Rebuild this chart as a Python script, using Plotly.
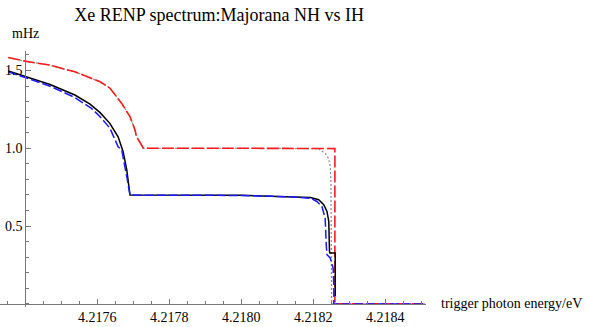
import plotly.graph_objects as go

# NH curves (upper plateau) and IH curves (lower plateau)
red_x = [4.217353, 4.217399, 4.217469, 4.217538, 4.217608, 4.217635, 4.217668,
         4.217691, 4.217705, 4.217709, 4.217723, 4.217728, 4.21800, 4.21825,
         4.21826, 4.21826, 4.21851]
red_y = [1.583, 1.560, 1.534, 1.491, 1.427, 1.387, 1.288,
         1.203, 1.117, 1.074, 1.021, 1.000, 1.0, 0.998,
         0.998, 0.0, 0.0]

gray_x = [4.217353, 4.217399, 4.217469, 4.217538, 4.217608, 4.217635, 4.217668,
          4.217691, 4.217705, 4.217709, 4.217723, 4.217728, 4.21800, 4.218216,
          4.218219, 4.218233, 4.218242, 4.218247, 4.218249, 4.21825, 4.218251,
          4.21851]
gray_y = [1.583, 1.560, 1.534, 1.491, 1.427, 1.387, 1.288,
          1.203, 1.117, 1.074, 1.021, 1.000, 1.0, 0.998,
          0.989, 0.968, 0.936, 0.882, 0.797, 0.6, 0.0,
          0.0]

black_x = [4.217353, 4.217399, 4.217469, 4.217538, 4.217580, 4.217608, 4.217635,
           4.217658, 4.217672, 4.217682, 4.217688, 4.217691, 4.21800, 4.218136,
           4.218192, 4.218215, 4.218229, 4.218238, 4.218243, 4.218245, 4.218246,
           4.218261, 4.218261]
black_y = [1.497, 1.463, 1.410, 1.342, 1.284, 1.229, 1.160,
           1.074, 0.978, 0.861, 0.754, 0.699, 0.698, 0.690,
           0.683, 0.669, 0.637, 0.594, 0.530, 0.337, 0.327,
           0.327, 0.05]

blue_x = [4.217353, 4.217399, 4.217469, 4.217538, 4.217584, 4.217608, 4.217635,
          4.217658, 4.217668, 4.217682, 4.217689, 4.217691, 4.21800, 4.218136,
          4.218192, 4.218210, 4.218224, 4.218233, 4.218236, 4.218238, 4.218247,
          4.218255, 4.218257, 4.218257, 4.21851]
blue_y = [1.491, 1.454, 1.399, 1.326, 1.256, 1.203, 1.130,
          1.010, 0.989, 0.818, 0.712, 0.699, 0.697, 0.688,
          0.679, 0.658, 0.626, 0.551, 0.38, 0.316, 0.295,
          0.231, 0.124, 0.0, 0.0]

x_ticks = [4.2176, 4.2178, 4.2180, 4.2182, 4.2184]
y_ticks = [0.5, 1.0, 1.5]

serif = "Liberation Serif, Times New Roman, serif"
axis_col = "#777777"

fig = go.Figure()
fig.add_trace(go.Scatter(x=gray_x, y=gray_y, mode="lines",
                         line=dict(color="#888888", width=1.2, dash="2px,2px")))
fig.add_trace(go.Scatter(x=red_x, y=red_y, mode="lines",
                         line=dict(color="#FF1A1A", width=1.6, dash="12px,3px")))
fig.add_trace(go.Scatter(x=black_x, y=black_y, mode="lines",
                         line=dict(color="black", width=1.5)))
fig.add_trace(go.Scatter(x=blue_x, y=blue_y, mode="lines",
                         line=dict(color="#1A1AFF", width=1.5, dash="9px,3px")))

x_lo, x_hi = 4.21733, 4.218513
y_lo, y_hi = -0.02, 1.625
fig.update_layout(
    template="none",
    width=589,
    height=327,
    margin=dict(l=0, r=163, t=51, b=20, autoexpand=False),
    plot_bgcolor="white",
    paper_bgcolor="white",
    showlegend=False,
    font=dict(family=serif, size=14, color="black"),
    title=dict(text="Xe RENP spectrum:Majorana NH vs IH", x=0.372, xanchor="center",
               y=0.955, yanchor="middle", font=dict(family=serif, size=18, color="black")),
    xaxis=dict(
        range=[x_lo, x_hi],
        automargin=False,
        anchor="free",
        position=(0 - y_lo) / (y_hi - y_lo),
        showgrid=False,
        zeroline=False,
        showline=True,
        linecolor=axis_col,
        linewidth=1,
        tickmode="array",
        tickvals=x_ticks,
        ticktext=[f"{v:.4f}" for v in x_ticks],
        ticks="inside",
        ticklen=5,
        tickcolor=axis_col,
        minor=dict(tick0=4.2174, dtick=0.00005, ticks="inside", ticklen=3,
                   tickcolor=axis_col),
    ),
    yaxis=dict(
        range=[y_lo, y_hi],
        automargin=False,
        anchor="free",
        position=(4.2174 - x_lo) / (x_hi - x_lo),
        showgrid=False,
        zeroline=False,
        showline=True,
        linecolor=axis_col,
        linewidth=1,
        tickmode="array",
        tickvals=y_ticks,
        ticktext=[f"{v:.1f}" for v in y_ticks],
        ticks="inside",
        ticklen=5,
        tickcolor=axis_col,
        minor=dict(tick0=0, dtick=0.1, ticks="inside", ticklen=3, tickcolor=axis_col),
    ),
    annotations=[
        dict(text="mHz", xref="paper", yref="paper", x=(4.2174 - x_lo) / (x_hi - x_lo),
             y=1.07, xanchor="center", yanchor="middle", showarrow=False,
             font=dict(family=serif, size=14)),
        dict(text="trigger photon energy/eV", xref="paper", yref="paper", x=1.03,
             y=(0 - y_lo) / (y_hi - y_lo), xanchor="left", yanchor="middle",
             showarrow=False, font=dict(family=serif, size=14)),
    ],
)

# drop the page's default body margin so the figure sits at the window corner
fig.write_html("out.html", config={"displayModeBar": False},
               post_script="document.body.style.margin = '0';")
